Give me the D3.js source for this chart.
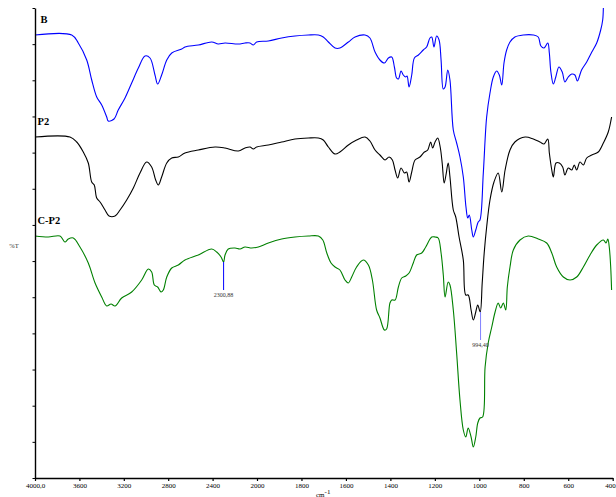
<!DOCTYPE html>
<html>
<head>
<meta charset="utf-8">
<script src="https://cdn.jsdelivr.net/npm/d3@7"></script>
<style>
  html, body { margin: 0; padding: 0; background: #fff; }
  svg { display: block; }
</style>
</head>
<body>
<svg id="chart" width="616" height="497"></svg>
<script>
// FTIR spectra: wavenumber (cm-1) vs transmittance (stacked, arbitrary %T units)
const seriesB = [
  [4000,44.3],[3669,44.3],[3610,43.5],[3534,41.8],[3489,39.8],[3444,38.1],[3399,37.3],[3354,36.1],
  [3340,35.7],[3288,35.9],[3250,36.8],[3189,38.0],[3129,39.5],[3069,41.0],[3009,42.2],[2964,42.0],
  [2919,40.3],[2895,39.4],[2859,40.3],[2813,41.8],[2768,42.5],[2678,42.9],[2649,43.1],[2529,43.3],
  [2408,43.6],[2349,43.4],[2288,43.5],[2168,43.4],[2108,43.5],[2063,43.5],[2033,43.3],[2003,43.6],
  [1949,43.7],[1889,44.0],[1829,44.2],[1769,44.3],[1724,44.3],[1702,44.1],[1679,43.6],[1649,43.0],
  [1627,43.0],[1589,43.6],[1559,44.1],[1514,44.3],[1492,44.0],[1469,42.6],[1447,41.8],[1427,41.5],
  [1409,42.0],[1394,42.1],[1382,41.1],[1372,40.0],[1364,39.9],[1352,40.7],[1342,40.3],[1331,40.1],
  [1325,40.2],[1316,39.1],[1304,40.3],[1292,42.0],[1274,42.3],[1252,42.8],[1237,43.1],[1222,44.0],
  [1214,44.1],[1204,43.1],[1192,44.2],[1181,43.8],[1172,41.8],[1162,38.9],[1154,39.1],[1142,40.8],
  [1132,39.8],[1117,34.8],[1102,33.5],[1087,32.1],[1072,30.1],[1060,27.1],[1052,26.0],[1045,26.3],
  [1034,24.8],[1027,24.1],[1016,24.8],[1005,25.6],[997,25.8],[982,30.5],[967,36.1],[952,38.5],
  [937,40.1],[922,40.7],[910,40.3],[899,39.3],[889,41.5],[877,42.8],[862,43.6],[840,44.1],
  [802,44.3],[757,44.3],[735,44.1],[723,43.2],[709,43.0],[692,43.5],[685,42.5],[678,40.6],
  [667,39.4],[656,40.1],[642,41.1],[627,40.6],[615,39.6],[600,40.1],[584,40.4],[570,40.3],
  [559,39.7],[540,40.8],[517,41.6],[494,42.6],[472,43.5],[454,44.8],[445,45.8],[442,47.0]
];

const seriesP2 = [
  [4000,34.1],[3685,34.1],[3624,33.6],[3565,32.6],[3520,31.5],[3489,29.6],[3466,29.3],[3444,28.0],
  [3414,27.6],[3369,26.8],[3333,26.2],[3279,26.2],[3234,26.8],[3174,27.8],[3114,29.0],[3054,30.5],
  [2994,31.6],[2949,31.1],[2913,29.8],[2889,29.3],[2859,30.1],[2813,31.5],[2768,32.0],[2709,32.1],
  [2649,32.5],[2529,32.8],[2378,33.1],[2288,33.0],[2168,32.7],[2108,33.0],[2063,33.1],[2033,32.9],
  [2003,33.1],[1949,33.3],[1889,33.6],[1829,33.9],[1769,34.0],[1724,34.0],[1702,33.8],[1679,33.1],
  [1649,32.4],[1627,32.6],[1589,33.3],[1552,33.8],[1514,34.1],[1492,33.7],[1469,32.8],[1447,32.3],
  [1424,31.8],[1406,32.1],[1391,31.8],[1379,30.8],[1367,30.0],[1352,31.0],[1337,30.5],[1327,30.6],
  [1316,29.6],[1304,30.6],[1289,31.8],[1267,32.1],[1247,32.6],[1232,32.8],[1219,33.6],[1210,33.0],
  [1199,33.6],[1187,34.0],[1176,33.1],[1167,31.5],[1158,29.5],[1150,30.3],[1140,31.5],[1132,30.1],
  [1117,26.8],[1106,26.1],[1091,24.1],[1072,21.8],[1061,18.3],[1050,18.3],[1037,16.8],[1027,15.8],
  [1016,16.6],[1007,17.3],[996,16.6],[987,19.5],[978,22.5],[967,25.1],[952,27.8],[934,29.6],
  [915,30.5],[899,28.6],[884,30.8],[862,32.8],[840,33.6],[794,34.1],[757,33.9],[727,33.6],
  [709,33.4],[692,33.9],[685,32.5],[674,30.8],[667,30.1],[655,31.5],[640,31.5],[625,31.1],
  [615,30.3],[600,31.0],[584,30.8],[573,31.3],[562,30.8],[547,31.6],[532,31.3],[517,32.0],
  [494,32.3],[465,32.6],[442,33.5],[420,34.6],[405,36.1]
];

const seriesCP2 = [
  [4000,24.2],[3880,24.1],[3775,24.2],[3730,23.6],[3700,23.9],[3655,24.0],[3595,23.1],[3520,21.5],
  [3459,19.5],[3399,18.1],[3354,17.2],[3315,17.4],[3279,17.2],[3219,18.0],[3129,18.6],[3039,19.8],
  [2979,20.9],[2949,20.6],[2925,19.3],[2895,19.1],[2865,18.6],[2844,18.8],[2813,20.1],[2768,21.0],
  [2709,21.3],[2649,21.8],[2529,22.3],[2408,22.9],[2363,22.6],[2324,22.1],[2301,21.6],[2288,22.3],
  [2259,22.9],[2198,23.0],[2153,22.9],[2108,23.1],[2048,23.0],[1994,23.1],[1949,23.5],[1889,23.9],
  [1829,24.1],[1769,24.2],[1724,24.2],[1704,23.8],[1686,22.5],[1667,21.5],[1649,21.1],[1627,20.8],
  [1604,19.8],[1589,19.5],[1574,20.1],[1552,21.1],[1522,21.8],[1499,21.3],[1481,19.8],[1462,16.8],
  [1447,16.0],[1427,14.8],[1417,14.9],[1402,17.5],[1394,17.8],[1379,17.8],[1364,19.1],[1349,20.0],
  [1331,20.2],[1316,20.5],[1297,21.5],[1282,22.3],[1259,22.5],[1241,23.1],[1214,24.1],[1199,24.1],
  [1185,24.0],[1172,22.5],[1162,20.3],[1154,18.1],[1140,19.6],[1132,19.3],[1117,16.8],[1102,12.5],
  [1087,7.8],[1072,4.8],[1061,4.1],[1050,5.0],[1037,4.1],[1027,3.1],[1016,4.1],[1007,5.5],
  [997,6.0],[985,6.1],[974,11.1],[960,13.5],[944,15.1],[929,16.6],[915,17.5],[904,17.0],
  [892,17.5],[881,16.8],[874,19.1],[862,21.1],[847,22.8],[817,23.8],[780,24.2],[735,23.9],
  [697,23.5],[674,22.5],[652,21.1],[622,20.1],[592,19.8],[562,20.1],[532,21.1],[502,22.3],
  [472,23.3],[442,23.8],[430,23.5],[422,23.9],[415,23.0],[409,21.1],[405,18.8]
];

const seriesNames = ["B", "P2", "C-P2"];
const seriesColors = ["#0000ff", "#000000", "#008000"];

// labelled band positions (cm-1) with the spectrum they sit on
const peakWn = [2300.88, 994.40];
const peakLabels = ["2300,88", "994,40"];
const peakSeries = [2, 1];
const peakColors = ["#0000ff", "#8080ff"];

const xTickValues = [4000, 3600, 3200, 2800, 2400, 2000, 1800, 1600, 1400, 1200, 1000, 800, 600, 400];
const xTickLabels = ["4000,0", "3600", "3200", "2800", "2400", "2000", "1800", "1600", "1400", "1200", "1000", "800", "600", "400,0"];

const svg = d3.select("#chart");

// wavenumber axis changes scale at 2000 cm-1
const x = d3.scaleLinear().domain([4000, 2000, 400]).range([35, 257, 612.7]);
const y = d3.scaleLinear().domain([0, 47]).range([478, 8]);
const yTickValues = d3.range(0, 14).map(i => i * 47 / 13);

const serif = "'Liberation Serif', 'Times New Roman', serif";

// spectra
const line = d3.line()
  .x(d => x(d[0]))
  .y(d => y(d[1]))
  .curve(d3.curveCatmullRom.alpha(0.5));

const allSeries = [seriesB, seriesP2, seriesCP2];
svg.append("g")
  .selectAll("path")
  .data(allSeries)
  .join("path")
  .attr("d", line)
  .attr("fill", "none")
  .attr("stroke", (d, i) => seriesColors[i])
  .attr("stroke-width", 1.1)
  .attr("stroke-linejoin", "round");

// spectrum names placed just above each baseline at the high-wavenumber end
svg.append("g")
  .selectAll("text")
  .data(seriesNames)
  .join("text")
  .attr("x", (d, i) => i === 0 ? 40.5 : 37.5)
  .attr("y", (d, i) => y(allSeries[i][0][1]) - 12.5)
  .attr("font-family", serif)
  .attr("font-weight", "bold")
  .attr("font-size", 10.5)
  .attr("fill", "#000")
  .text(d => d);

// peak markers
peakWn.forEach((wn, k) => {
  const s = allSeries[peakSeries[k]];
  const nearest = s.reduce((a, b) => Math.abs(b[0] - wn) < Math.abs(a[0] - wn) ? b : a);
  const y0 = y(nearest[1]);
  svg.append("line")
    .attr("x1", x(wn)).attr("x2", x(wn))
    .attr("y1", y0).attr("y2", y0 + 28)
    .attr("stroke", peakColors[k])
    .attr("stroke-width", 1);
  svg.append("text")
    .attr("x", x(wn))
    .attr("y", y0 + 35)
    .attr("text-anchor", "middle")
    .attr("font-family", serif)
    .attr("font-size", 6)
    .attr("fill", "#333")
    .text(peakLabels[k]);
});

// x axis
const xAxis = d3.axisBottom(x)
  .tickValues(xTickValues)
  .tickFormat((d, i) => xTickLabels[i])
  .tickSize(3)
  .tickSizeOuter(0);
const gx = svg.append("g")
  .attr("transform", "translate(0,478)")
  .call(xAxis);
gx.select(".domain").attr("stroke", "#000").attr("stroke-width", 1.4);
gx.selectAll(".tick line").attr("stroke", "#000").attr("stroke-width", 1.2);
gx.selectAll(".tick text")
  .attr("font-family", serif)
  .attr("font-size", 7)
  .attr("fill", "#000")
  .attr("dy", "0.5em");

// y axis (unlabelled ticks)
const yAxis = d3.axisLeft(y)
  .tickValues(yTickValues)
  .tickFormat("")
  .tickSize(2.5)
  .tickSizeOuter(0);
const gy = svg.append("g")
  .attr("transform", "translate(35,0)")
  .call(yAxis);
gy.select(".domain").attr("stroke", "#000").attr("stroke-width", 1.4);
gy.selectAll(".tick line").attr("stroke", "#000").attr("stroke-width", 1);

// axis titles
svg.append("text")
  .attr("x", 14)
  .attr("y", 248)
  .attr("text-anchor", "middle")
  .attr("font-family", serif)
  .attr("font-size", 6.5)
  .attr("fill", "#333")
  .text("%T");

const xt = svg.append("text")
  .attr("x", 316)
  .attr("y", 496.5)
  .attr("font-family", serif)
  .attr("font-size", 7)
  .attr("fill", "#000");
xt.append("tspan").text("cm");
xt.append("tspan").attr("dy", -2.5).text("-1");
</script>
</body>
</html>
